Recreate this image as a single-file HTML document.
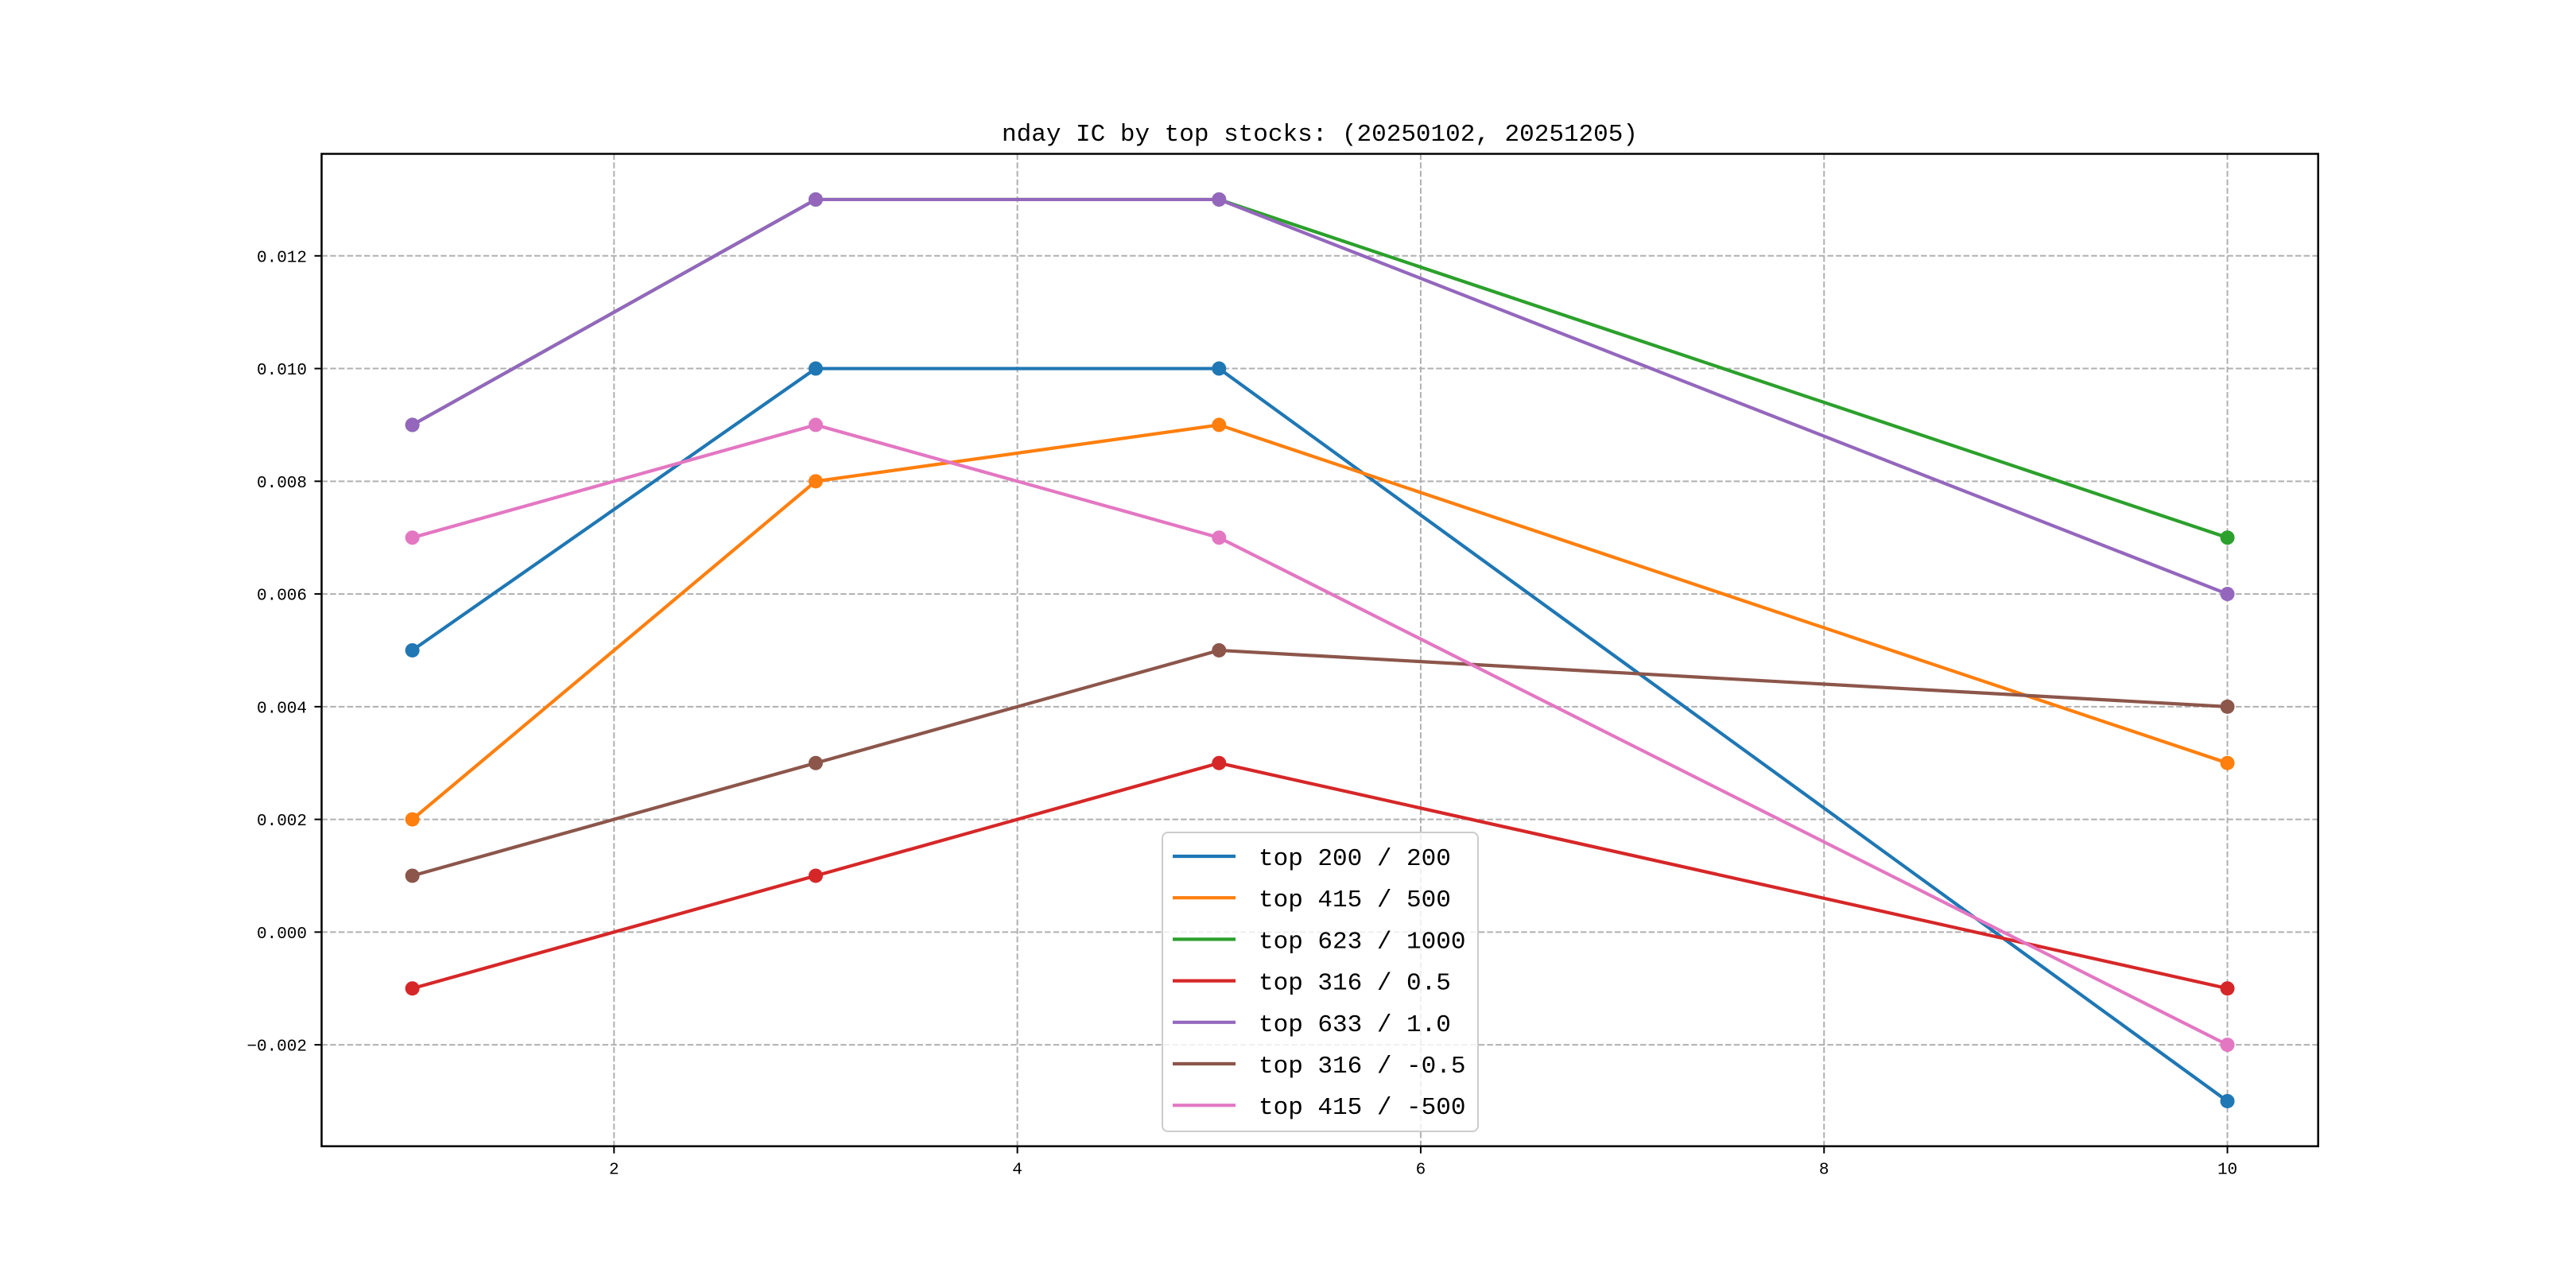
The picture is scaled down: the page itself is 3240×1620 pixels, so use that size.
<!DOCTYPE html>
<html><head><meta charset="utf-8"><style>
html,body{margin:0;padding:0;background:#fff;}
svg{display:block;}
text{font-family:"Liberation Mono","Noto Sans CJK SC",monospace;fill:#000;}
</style></head><body>
<svg id="chart" width="3240" height="1620" viewBox="0 0 3240 1620" xmlns="http://www.w3.org/2000/svg">
<rect width="3240" height="1620" fill="#fff"/>
<text x="1660" y="177" font-size="31" text-anchor="middle">nday IC by top stocks: (20250102, 20251205)</text>
<g id="grid"></g><g id="series"></g><g id="axes"></g><g id="legend"></g>
</svg>
<script>
const xValues = [1, 3, 5, 10];
const seriesLabels = ["top 200 / 200","top 415 / 500","top 623 / 1000","top 316 / 0.5","top 633 / 1.0","top 316 / -0.5","top 415 / -500"];
const seriesColors = ["#1f77b4","#ff7f0e","#2ca02c","#d62728","#9467bd","#8c564b","#e377c2"];
const s0 = [0.005, 0.010, 0.010, -0.003];
const s1 = [0.002, 0.008, 0.009, 0.003];
const s2 = [0.009, 0.013, 0.013, 0.007];
const s3 = [-0.001, 0.001, 0.003, -0.001];
const s4 = [0.009, 0.013, 0.013, 0.006];
const s5 = [0.001, 0.003, 0.005, 0.004];
const s6 = [0.007, 0.009, 0.007, -0.002];
const seriesValues = [s0, s1, s2, s3, s4, s5, s6];
const xTicks = [2, 4, 6, 8, 10];
const yTicks = [-0.002, 0, 0.002, 0.004, 0.006, 0.008, 0.010, 0.012];
const yTickLabels = ["\u22120.002","0.000","0.002","0.004","0.006","0.008","0.010","0.012"];

const NS = "http://www.w3.org/2000/svg";
const L = 404.5, R = 2915.7, T = 193.5, B = 1441.7;
const xmin = 0.55, xmax = 10.45, ymin = -0.0038, ymax = 0.01381;
function sx(v){ return L + (v - xmin) / (xmax - xmin) * (R - L); }
function sy(v){ return B - (v - ymin) / (ymax - ymin) * (B - T); }
function mk(tag, attrs, parent){ const e = document.createElementNS(NS, tag); for (const k in attrs) e.setAttribute(k, attrs[k]); parent.appendChild(e); return e; }

const grid = document.getElementById('grid');
const axes = document.getElementById('axes');
xTicks.forEach(function(t){
  const g = mk('line', {x1: sx(t), x2: sx(t), y1: T, y2: B, stroke: '#b0b0b0', 'stroke-width': 2, 'stroke-dasharray': '7.5,3.2'}, grid);
  
  
  const tk = mk('line', {x1: sx(t), x2: sx(t), y1: B, y2: B + 9, stroke: '#000', 'stroke-width': 2}, axes);
  
  
  const lb = mk('text', {x: sx(t), y: B + 35, 'font-size': 21, 'text-anchor': 'middle'}, axes);
  lb.textContent = String(t);
  
  
});
yTicks.forEach(function(t, i){
  const g = mk('line', {x1: L, x2: R, y1: sy(t), y2: sy(t), stroke: '#b0b0b0', 'stroke-width': 2, 'stroke-dasharray': '7.5,3.2'}, grid);
  
  
  const tk = mk('line', {x1: L - 9, x2: L, y1: sy(t), y2: sy(t), stroke: '#000', 'stroke-width': 2}, axes);
  
  
  const lb = mk('text', {x: 386, y: sy(t) + 7.5, 'font-size': 21, 'text-anchor': 'end'}, axes);
  lb.textContent = yTickLabels[i];
  
  
});
const frame = mk('rect', {x: L, y: T, width: R - L, height: B - T, fill: 'none', stroke: '#000', 'stroke-width': 2.5}, axes);



const ser = document.getElementById('series');
seriesValues.forEach(function(vals, si){
  const g = mk('g', {}, ser);
  
  
  const pts = vals.map(function(v, i){ return sx(xValues[i]) + ',' + sy(v); }).join(' ');
  const pl = mk('polyline', {points: pts, fill: 'none', stroke: seriesColors[si], 'stroke-width': 4.2, 'stroke-linejoin': 'round'}, g);
  
  
  vals.forEach(function(v, i){
    const c = mk('circle', {cx: sx(xValues[i]), cy: sy(v), r: 9, fill: seriesColors[si]}, g);
    
    
  });
});

const leg = document.getElementById('legend');
const box = mk('rect', {x: 1462, y: 1047, width: 397, height: 376, rx: 7, fill: '#fff', 'fill-opacity': 0.8, stroke: '#cccccc', 'stroke-width': 2}, leg);


seriesLabels.forEach(function(lab, i){
  const y = 1077 + i * 52.2;
  const ln = mk('line', {x1: 1475, x2: 1554, y1: y, y2: y, stroke: seriesColors[i], 'stroke-width': 4.2}, leg);
  
  
  const t = mk('text', {x: 1583, y: y + 11, 'font-size': 31}, leg);
  t.textContent = lab;
  
  
});
</script>
</body></html>
